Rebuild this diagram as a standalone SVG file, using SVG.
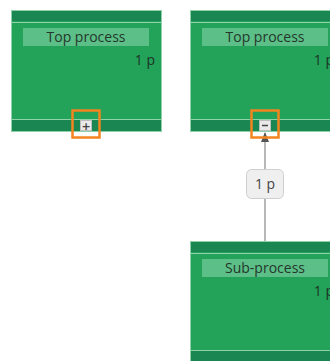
<svg xmlns="http://www.w3.org/2000/svg" width="330" height="361" viewBox="0 0 330 361">
  <defs>
    <style>
      .body { fill: #23a35a; stroke: #8fd2aa; stroke-width: 1; }
      .band { fill: #1a8753; }
      .sep { stroke: #8fd2aa; stroke-width: 1; }
      .title { fill: #5cbf87; }
      .ttext { font-family: "Open Sans", "Liberation Sans", sans-serif; font-size: 14px; fill: #24372c; text-anchor: middle; }
      .count { font-family: "Open Sans", "Liberation Sans", sans-serif; font-size: 14px; fill: #1d3326; text-anchor: end; }
      .btn { fill: #e9e9e9; stroke: #bdbdbd; stroke-width: 1; }
      .btntext { font-family: "DejaVu Sans", sans-serif; font-size: 11px; font-weight: bold; fill: #444; text-anchor: middle; }
      .focus { fill: none; stroke: #f4841f; stroke-width: 2.5; }
      .edge { stroke: #b8b8b8; stroke-width: 2; fill: none; }
      .elabel { fill: #efefef; stroke: #cfcfcf; stroke-width: 1; }
      .eltext { font-family: "Open Sans", "Liberation Sans", sans-serif; font-size: 14px; fill: #444; text-anchor: middle; }
    </style>
    <marker id="arrow" viewBox="0 0 10 10" refX="9" refY="5" markerWidth="5" markerHeight="5" orient="auto">
      <path d="M0,1 L10,5 L0,9 Z" fill="#555"/>
    </marker>
  </defs>

  <!-- collapsed top process -->
  <g id="node-top-left">
    <rect class="body" x="11.5" y="10.5" width="150" height="121"/>
    <rect class="band" x="12" y="11" width="149" height="10"/>
    <line class="sep" x1="12" y1="22.5" x2="161" y2="22.5"/>
    <rect class="band" x="12" y="120" width="149" height="11"/>
    <line class="sep" x1="12" y1="119.5" x2="161" y2="119.5"/>
    <rect class="title" x="23" y="28" width="126" height="18"/>
    <text class="ttext" x="86" y="42">Top process</text>
    <text class="count" x="155" y="65">1 p</text>
    <rect class="btn" x="80.5" y="120.5" width="11" height="10"/>
    <text class="btntext" x="86" y="129.5">+</text>
    <rect class="focus" x="72.5" y="110.5" width="27" height="27"/>
  </g>

  <!-- connectors -->
  <g id="connectors">
    <line class="edge" x1="265" y1="241" x2="265" y2="133" marker-end="url(#arrow)"/>
    <rect class="elabel" x="246.5" y="169.5" width="37" height="29" rx="5"/>
    <text class="eltext" x="265" y="189">1 p</text>
  </g>

  <!-- expanded top process -->
  <g id="node-top-right">
    <rect class="body" x="190.5" y="10.5" width="150" height="121"/>
    <rect class="band" x="191" y="11" width="149" height="10"/>
    <line class="sep" x1="191" y1="22.5" x2="340" y2="22.5"/>
    <rect class="band" x="191" y="120" width="149" height="11"/>
    <line class="sep" x1="191" y1="119.5" x2="340" y2="119.5"/>
    <rect class="title" x="202" y="28" width="126" height="18"/>
    <text class="ttext" x="265" y="42">Top process</text>
    <text class="count" x="334" y="65">1 p</text>
    <rect class="btn" x="259.5" y="120.5" width="11" height="10"/>
    <line x1="262" y1="125.5" x2="268" y2="125.5" stroke="#444" stroke-width="1.5"/>
    <rect class="focus" x="251.5" y="110.5" width="27" height="27"/>
  </g>

  <!-- child -->
  <g id="node-sub">
    <rect class="body" x="190.5" y="241.5" width="150" height="121"/>
    <rect class="band" x="191" y="242" width="149" height="10"/>
    <line class="sep" x1="191" y1="253.5" x2="340" y2="253.5"/>
    <rect class="band" x="191" y="351" width="149" height="11"/>
    <line class="sep" x1="191" y1="350.5" x2="340" y2="350.5"/>
    <rect class="title" x="202" y="259" width="126" height="18"/>
    <text class="ttext" x="265" y="273">Sub-process</text>
    <text class="count" x="334" y="296">1 p</text>
  </g>
</svg>
